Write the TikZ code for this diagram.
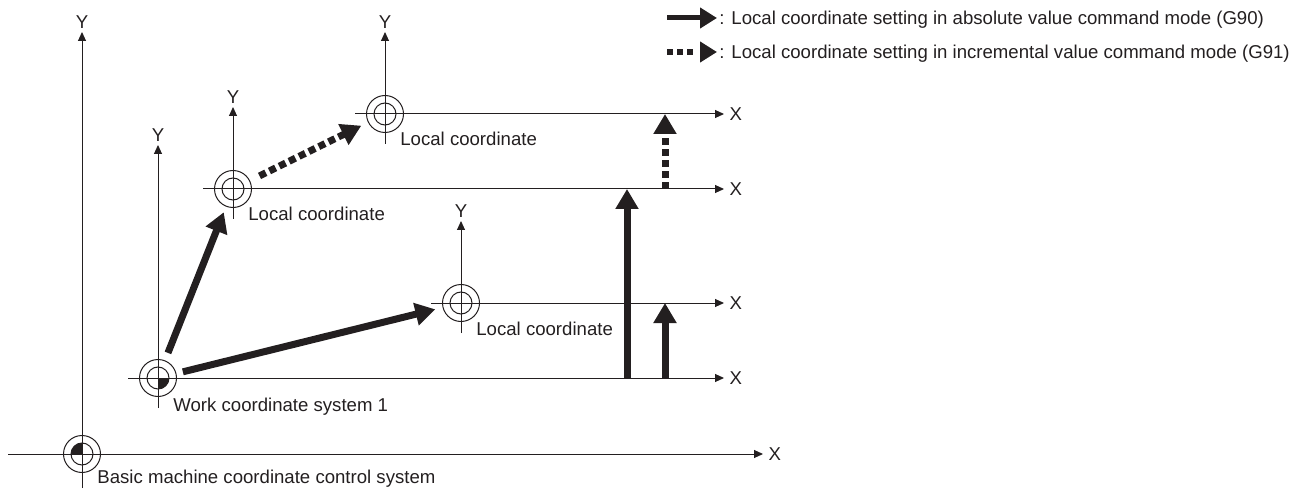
\documentclass[tikz,border=0pt]{standalone}
\usepackage{fontspec}
\setmainfont{Liberation Sans}
\usetikzlibrary{arrows.meta}
\definecolor{ink}{RGB}{35,31,32}
\tikzset{
  axisline/.style={ink, line width=0.5pt, -{Triangle[length=4.5pt,width=4pt]}},
  ring/.style={ink, line width=0.5pt},
  setabs/.style={ink, line width=3.5pt, -{Triangle[length=10pt,width=11pt]}},
  setinc/.style={setabs, dash pattern=on 3.5pt off 2pt},
  legabs/.style={ink, line width=2.5pt, -{Triangle[length=8.5pt,width=10pt]}},
  leginc/.style={legabs, line width=3pt, dash pattern=on 3pt off 2pt on 3pt off 2pt on 3pt off 20pt},
  lbl/.style={font=\fontsize{9.3}{11}\selectfont, text=ink, inner sep=0pt},
}
\begin{document}
\begin{tikzpicture}[x=0.5pt, y=0.5pt]
  \useasboundingbox (0,0) rectangle (1296,488);

  % basic machine coordinate system
  \coordinate (B) at (82,34);
  \coordinate (B-xb) at (8,34);
  \coordinate (B-xt) at (763,34);
  \coordinate (B-yb) at (82,0);
  \coordinate (B-yt) at (82,456);
  \draw[axisline] (B-xb) -- (B-xt) node[lbl, right=2.5pt] (B-xlab) {X};
  \draw[axisline] (B-yb) -- (B-yt) node[lbl, above=1.7pt] (B-ylab) {Y};
  \draw[ring] (B) circle[radius=18.5] (B) circle[radius=11];
  \fill[ink] (B) -- ++(-11,0) arc[start angle=180, end angle=90, radius=11] -- cycle;
  \node[lbl, anchor=base west] (B-lab) at (97,5) {Basic machine coordinate control system};

  % work and local coordinate systems
  \foreach \n/\x/\y/\ty in {W/158/110/343, L1/233/299/381, L2/461/185/267, L3/385/374/456} {
    \coordinate (\n) at (\x,\y);
    \coordinate (\n-xb) at (\x-30,\y);
    \coordinate (\n-xt) at (724,\y);
    \coordinate (\n-yb) at (\x,\y-30);
    \coordinate (\n-yt) at (\x,\ty);
    \draw[axisline] (\n-xb) -- (\n-xt) node[lbl, right=2.5pt] (\n-xlab) {X};
    \draw[axisline] (\n-yb) -- (\n-yt) node[lbl, above=1.7pt] (\n-ylab) {Y};
    \draw[ring] (\n) circle[radius=18.5] (\n) circle[radius=11];
  }
  \fill[ink] (W) -- ++(0,-11) arc[start angle=270, end angle=360, radius=11] -- cycle;
  \node[lbl, anchor=base west] (W-lab) at (173,77) {Work coordinate system 1};
  \foreach \n in {L1,L2,L3}
    \node[lbl, anchor=base west] (\n-lab) at ([shift={(15,-32)}]\n) {Local coordinate};

  % shifts of the origin
  \draw[setabs, shorten <=13.5pt, shorten >=12.5pt] (W) -- (L1);
  \draw[setabs, shorten <=12.8pt, shorten >=13.2pt] (W) -- (L2);
  \draw[setinc, shorten <=14.8pt, shorten >=13.2pt] (L1) -- (L3);

  \coordinate (v1a) at (627,110);
  \coordinate (v1b) at (627,299);
  \coordinate (v2a) at (665,110);
  \coordinate (v2b) at (665,185);
  \coordinate (v3a) at (665,299);
  \coordinate (v3b) at (665,374);
  \draw[setabs] (v1a) -- (v1b);
  \draw[setabs] (v2a) -- (v2b);
  \draw[setinc] (v3a) -- (v3b);

  % legend
  \coordinate (g1a) at (667,470);
  \coordinate (g1b) at (717,470);
  \coordinate (g2a) at (667,436);
  \coordinate (g2b) at (717,436);
  \draw[legabs] (g1a) -- (g1b);
  \draw[leginc] (g2a) -- (g2b);
  \node[lbl, anchor=base west] (g1-lab) at (719,463.5) {: Local coordinate setting in absolute value command mode (G90)};
  \node[lbl, anchor=base west] (g2-lab) at (719,429.5) {: Local coordinate setting in incremental value command mode (G91)};
\end{tikzpicture}
\end{document}
